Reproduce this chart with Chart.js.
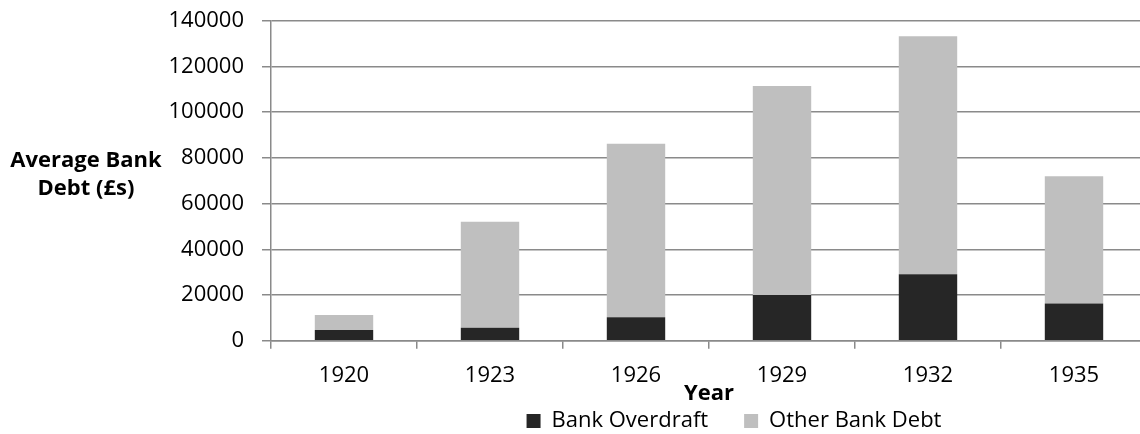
<!DOCTYPE html>
<html>
<head>
<meta charset="utf-8">
<script src="https://cdn.jsdelivr.net/npm/chart.js@4"></script>
<style>
html, body { margin: 0; padding: 0; overflow: hidden; background: #fff; }
#wrap { width: 1147px; height: 434px; position: relative; }
</style>
</head>
<body>
<div id="wrap"><canvas id="myChart"></canvas></div>
<script>
const years = ['1920', '1923', '1926', '1929', '1932', '1935'];
const overdraft = [4700, 5700, 10300, 20000, 29100, 16300];
const otherDebt = [6500, 46300, 75900, 91400, 104100, 55700];
const yTitle = ['Average Bank', 'Debt (£s)'];

const axisGrey = '#8a8a8a';
const fontName = 'Open Sans';

// y title is horizontal in the original, chart.js can only rotate it, so draw it by hand
const sideTitle = {
  id: 'sideTitle',
  afterDraw(chart) {
    const ctx = chart.ctx;
    const area = chart.chartArea;
    const mid = (area.top + area.bottom) / 2;
    ctx.save();
    ctx.font = 'bold 22px "' + fontName + '"';
    ctx.fillStyle = '#000';
    ctx.textAlign = 'center';
    ctx.textBaseline = 'middle';
    ctx.fillText(yTitle[0], 86, mid - 20);
    ctx.fillText(yTitle[1], 86, mid + 8);
    ctx.restore();
  }
};

// legend sits a bit right of the plot centre and tucked under the axis title
const legendShift = {
  id: 'legendShift',
  afterLayout(chart) {
    const lg = chart.legend;
    const dy = 374 - lg.top;
    lg.left += 25;
    lg.right += 25;
    lg.top += dy;
    lg.bottom += dy;
  }
};

const ctx = document.getElementById('myChart');

const data = {
  labels: years,
  datasets: [{
    label: 'Bank Overdraft',
    data: overdraft,
    backgroundColor: '#262626',
    barPercentage: 0.5,
    categoryPercentage: 0.8
  }, {
    label: 'Other Bank Debt',
    data: otherDebt,
    backgroundColor: '#bfbfbf',
    barPercentage: 0.5,
    categoryPercentage: 0.8
  }]
};

const config = {
  type: 'bar',
  data: data,
  plugins: [sideTitle, legendShift],
  options: {
    responsive: true,
    maintainAspectRatio: false,
    animation: false,
    layout: { padding: { top: 20.7, right: 0, bottom: -34.7, left: 0 } },
    plugins: {
      tooltip: { enabled: false },
      legend: {
        position: 'bottom',
        fullSize: false,
        labels: {
          font: { family: fontName, size: 22 },
          color: '#000',
          boxWidth: 14,
          boxHeight: 14,
          padding: 36
        }
      }
    },
    scales: {
      x: {
        stacked: true,
        grid: { drawOnChartArea: false, tickLength: 8, color: axisGrey, lineWidth: 1.5 },
        border: { color: axisGrey, width: 1.5 },
        ticks: { font: { family: fontName, size: 22 }, color: '#000', padding: 14, maxRotation: 0, autoSkip: false },
        title: {
          display: true,
          text: 'Year',
          font: { family: fontName, size: 22, weight: 'bold' },
          color: '#000',
          padding: { top: 0, bottom: -6.5 }
        },
        afterFit(scale) { scale.height = 60; }
      },
      y: {
        stacked: true,
        min: 0,
        max: 140000,
        grid: { color: axisGrey, lineWidth: 1.5, tickLength: 9 },
        border: { color: axisGrey, width: 1.5 },
        ticks: {
          stepSize: 20000,
          padding: 18,
          font: { family: fontName, size: 22 },
          color: '#000',
          callback: v => String(v)
        },
        afterFit(scale) {
          scale.width = 271;
          scale.paddingTop = 0;
          scale.paddingBottom = 0;
        }
      }
    }
  }
};

let chart = new Chart(ctx, config);
</script>
</body>
</html>
